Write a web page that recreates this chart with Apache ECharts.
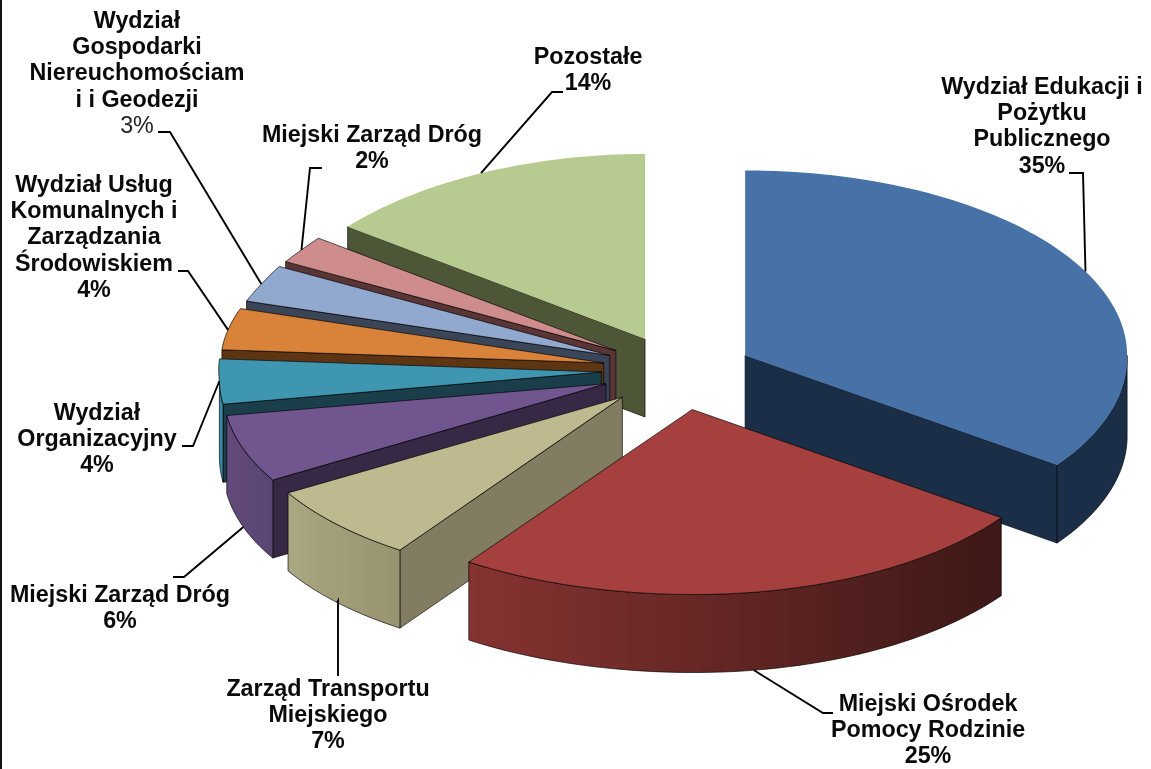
<!DOCTYPE html>
<html><head><meta charset="utf-8">
<style>html,body{margin:0;padding:0;background:#fff}#c{width:1151px;height:769px}</style>
<script src="https://cdn.jsdelivr.net/npm/echarts@6/dist/echarts.min.js"></script>
</head><body><div id="c"></div>
<script>
const names = ['Wydział Edukacji i\nPożytku\nPublicznego','Miejski Ośrodek\nPomocy Rodzinie','Zarząd Transportu\nMiejskiego','Miejski Zarząd Dróg','Wydział\nOrganizacyjny','Wydział Usług\nKomunalnych i\nZarządzania\nŚrodowiskiem','Wydział\nGospodarki\nNiereuchomościam\ni i Geodezji','Miejski Zarząd Dróg','Pozostałe'];
const values = [35,25,7,6,4,4,3,2,14];
const drawOrder = [0,8,7,6,5,4,3,2,1];

// styling, separate from the data
const topColors = ['#4672A8','#A5403E','#BEB98F','#71558E','#3F96B0','#D9833A','#91A8CF','#CE8C8C','#B7CB91'];
const innerColors = ['#1A2E47','#3F1917','#817C62','#372845','#1A3E4A','#5E3513','#3A4558','#593535','#4E5638'];
const outerL = ['#1A2E47','#863331','#ABA682','#624B7C','#3A8AA2','#5E3513','#3A4558','#593535','#4E5638'];
const outerR = ['#1A2E47','#3D1816','#98936F','#5A4572','#3A8AA2','#5E3513','#3A4558','#593535','#4E5638'];
const geo = {cx:677.4, cy:372, rx:382, ry:185, explode:76, depth:78, squash:0.48};
// label layout: centre x, first line y, leader bend points, whether leader starts on the wall's lower edge
const labelLayout = [
 {x:1042,y:87, bend:[[1083,173],[1069,173]], low:0},
 {x:928, y:704,bend:[[823,713],[833,713]], low:1},
 {x:328, y:689,bend:[[338,601],[338,676]], low:1},
 {x:120, y:595,bend:[[184,577],[173,577]], low:1},
 {x:97,  y:413,bend:[[193,446],[182,446]], low:0},
 {x:94,  y:185,bend:[[188,271],[178,271]], low:0},
 {x:137, y:21, bend:[[170,132],[158,132]], low:0},
 {x:372, y:135,bend:[[310,168],[322,168]], low:0},
 {x:588, y:57, bend:[[552,92],[563,92]], low:0}
];
const lightPct = [6];
const LH = 26.4;
const FONT = 'bold 23.3px "Liberation Sans", Arial, sans-serif';
const FONTL = '23.3px "Liberation Sans", Arial, sans-serif';
const total = values.reduce((a,b)=>a+b,0);
const rad = d => d*Math.PI/180;
function angles(i){
  let s=0; for(let k=0;k<i;k++) s+=values[k];
  return [s/total*360,(s+values[i])/total*360];
}
function apex(i){
  const [a,b]=angles(i), m=rad((a+b)/2);
  return [geo.cx+geo.explode*Math.sin(m), geo.cy-geo.explode*geo.squash*Math.cos(m)];
}
function apexDrawn(i){
  const [a,b]=angles(i), c=Math.cos(rad((a+b)/2)), A=apex(i);
  return [A[0]+3*Math.max(0,-c), A[1]+1.5*Math.max(0,-c)];
}
function rim(i,d){
  const A=apex(i), t=rad(d), s=Math.sin(t), c=Math.cos(t);
  // small corrections imitating the perspective of the original 3-D view
  let dx=5*Math.max(0,-c), dy=(s<0?9*s*s:0)+1.5*Math.max(0,-c);
  if(d>270){
    const fade = d<=302 ? 1 : d<=310 ? 1-0.65*(d-302)/8 : 0.35*(360-d)/50;
    dx-=8*Math.min(1,(d-270)/20)*fade;
  }
  if(d>275&&d<310) dy+=6*Math.sin(Math.PI*(d-275)/35);
  return [A[0]+geo.rx*s+dx, A[1]-geo.ry*c+dy];
}
function arc(i,a,b){
  const pts=[], n=Math.max(2,Math.ceil((b-a)/1.5));
  for(let k=0;k<=n;k++) pts.push(rim(i,a+(b-a)*k/n));
  return pts;
}
const down = p => [p[0],p[1]+geo.depth];
const edge = {stroke:'rgba(0,0,0,0.65)',lineWidth:1,lineJoin:'round'};
function poly(points,fill,noEdge){
  return {type:'polygon',shape:{points},style:noEdge?{fill}:Object.assign({fill},edge)};
}
function sliceItem(params,api){
  const i=api.value(0), A=apexDrawn(i), [a,b]=angles(i);
  const M=rim(i,(a+b)/2);
  const kids=[];
  [a,b].forEach(d=>{
    const R=rim(i,d), vx=R[0]-A[0], vy=R[1]-A[1], mx=M[0]-A[0], my=M[1]-A[1];
    const cross=vx*my-vy*mx;
    if(Math.abs(vx)>1 && cross*vx<0) kids.push(poly([A,R,down(R),down(A)],innerColors[i]));
  });
  const wa=Math.max(a,90), wb=Math.min(b,270);
  if(wb>wa){
    const t=arc(i,wa,wb);
    const xs=t.map(p=>p[0]);
    const fill=new echarts.graphic.LinearGradient(Math.min(...xs),0,Math.max(...xs),0,
      [{offset:0,color:outerL[i]},{offset:1,color:outerR[i]}],true);
    kids.push(poly(t.concat(t.slice().reverse().map(down)),fill));
  }
  kids.push(poly([A].concat(arc(i,a,b)),topColors[i],i===0||i===8));
  return {type:'group',children:kids};
}
function labelItem(params,api){
  const i=api.value(0), L=labelLayout[i], [a,b]=angles(i);
  let S=rim(i,(a+b)/2); if(L.low) S=down(S);
  const lines=names[i].split('\n').length;
  const top=L.y-13;
  return {type:'group',children:[
    {type:'polyline',shape:{points:[S].concat(L.bend)},style:{stroke:'#000',lineWidth:1.9,fill:null}},
    {type:'text',style:{text:names[i],x:L.x,y:top,align:'center',verticalAlign:'top',font:FONT,lineHeight:LH,fill:'#0a0a0a'}},
    {type:'text',style:{text:values[i]+'%',x:L.x,y:top+lines*LH,align:'center',verticalAlign:'top',font:lightPct.includes(i)?FONTL:FONT,lineHeight:LH,fill:lightPct.includes(i)?'#222':'#0a0a0a'}}
  ]};
}
const chart=echarts.init(document.getElementById('c'),null,{renderer:'canvas'});
chart.setOption({
  animation:false,
  backgroundColor:'#fff',
  graphic:[
    {type:'rect',shape:{x:0,y:0,width:2,height:769},style:{fill:'#111'}},
    {type:'text',style:{text:'2013 r.',x:635,y:-19,align:'center',font:FONT,fill:'#444'}}
  ],
  series:[
    {type:'custom',coordinateSystem:'none',renderItem:sliceItem,data:drawOrder.map(i=>[i]),silent:true,z:2},
    {type:'custom',coordinateSystem:'none',renderItem:labelItem,data:values.map((v,i)=>[i]),silent:true,z:3}
  ]
});
</script></body></html>
